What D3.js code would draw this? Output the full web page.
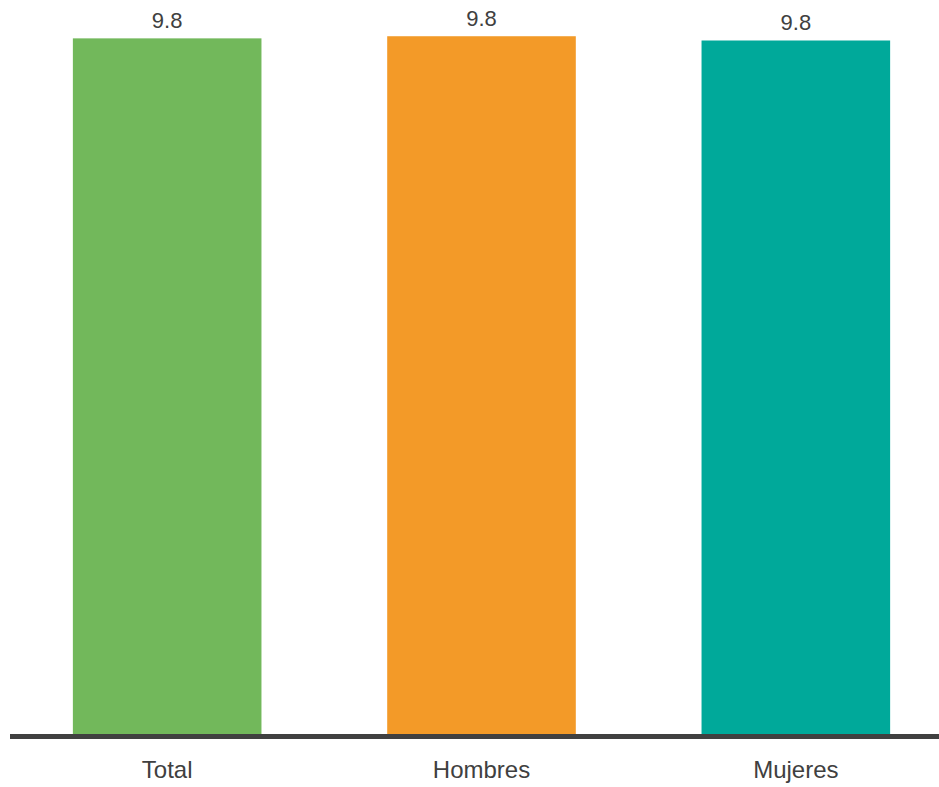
<!DOCTYPE html>
<html><head><meta charset="utf-8">
<script src="https://cdn.jsdelivr.net/npm/d3@7"></script>
<style>body{margin:0;background:#fff}svg{display:block}</style>
</head><body>
<svg id="chart" width="939" height="787"></svg>
<script>
const categories = ["Total", "Hombres", "Mujeres"];
const values = [9.82, 9.85, 9.79];
const labels = ["9.8", "9.8", "9.8"];
const colors = ["#72B85B", "#F39A28", "#00A99A"];

const svg = d3.select("#chart");
const baseY = 736;
const x = d3.scaleBand().domain(categories).range([10, 953]).paddingInner(0.4).paddingOuter(0.2);
const y = d3.scaleLinear().domain([0, 10.36]).range([baseY, 0]);

const data = categories.map((c, i) => ({c, v: values[i], l: labels[i], col: colors[i]}));

svg.selectAll("rect.bar").data(data).join("rect")
  .attr("class", "bar")
  .attr("x", d => x(d.c)).attr("width", x.bandwidth())
  .attr("y", d => y(d.v)).attr("height", d => y(0) - y(d.v))
  .attr("fill", d => d.col);

svg.selectAll("text.val").data(data).join("text")
  .attr("class", "val")
  .attr("x", d => x(d.c) + x.bandwidth() / 2)
  .attr("y", d => y(d.v) - 10)
  .attr("text-anchor", "middle")
  .attr("font-family", "Liberation Sans, Arial, sans-serif")
  .attr("font-size", 22).attr("fill", "#404040")
  .text(d => d.l);

const axis = svg.append("g").attr("transform", `translate(0,${baseY})`)
  .call(d3.axisBottom(x).tickSize(0).tickPadding(0));
axis.select(".domain").remove();
axis.append("line").attr("x1", 10).attr("x2", 939).attr("y1", 0.5).attr("y2", 0.5)
  .attr("stroke", "#404040").attr("stroke-width", 5);
axis.selectAll(".tick text")
  .attr("dy", null).attr("y", 42)
  .attr("font-family", "Liberation Sans, Arial, sans-serif")
  .attr("font-size", 24).attr("fill", "#404040");
</script>
</body></html>
